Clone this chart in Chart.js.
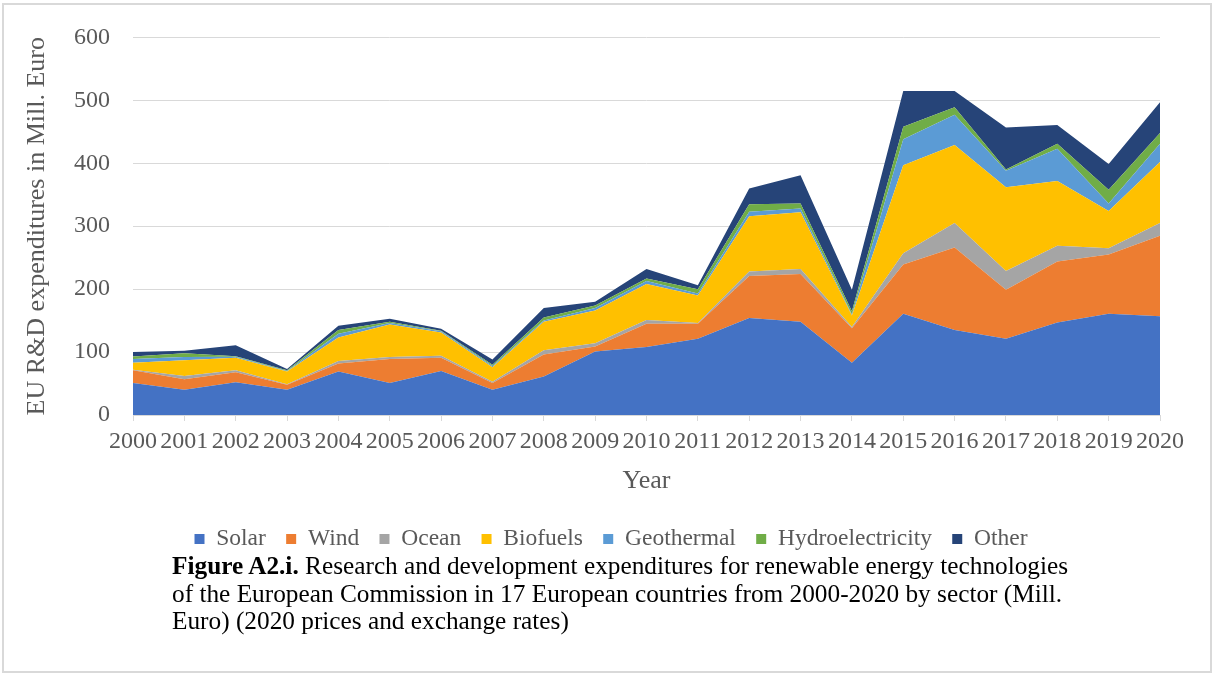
<!DOCTYPE html>
<html>
<head>
<meta charset="utf-8">
<title>EU R&amp;D expenditures for renewable energy technologies</title>
<script src="https://cdn.jsdelivr.net/npm/chart.js@4/dist/chart.umd.min.js"></script>
<style>
  html, body { margin: 0; padding: 0; background: #ffffff; }
  body { width: 1212px; height: 673px; position: relative; overflow: hidden; font-family: "Liberation Serif", "Times New Roman", serif; }
  #frame { position: absolute; left: 2px; top: 3px; width: 1210px; height: 670px; box-sizing: border-box; border: 2px solid #d9d9d9; }
  #chart { position: absolute; left: 0; top: 0; }
  #caption { position: absolute; left: 172px; top: 552px; font-size: 25.3px; line-height: 27.5px; color: #000; white-space: nowrap; }
</style>
</head>
<body>
<div id="frame"></div>
<canvas id="chart" width="1212" height="562"></canvas>
<div id="caption"><b>Figure A2.i.</b> Research and development expenditures for renewable energy technologies<br>of the European Commission in 17 European countries from 2000-2020 by sector (Mill.<br>Euro) (2020 prices and exchange rates)</div>
<script>
// Years on the category axis
const years = ['2000','2001','2002','2003','2004','2005','2006','2007','2008','2009','2010',
               '2011','2012','2013','2014','2015','2016','2017','2018','2019','2020'];

// Expenditures per sector, Mill. Euro
const solar      = [51, 40, 52, 40, 69, 51, 70, 40, 61, 101, 108, 121, 154, 148, 83, 161, 135, 121, 147, 161, 157];
const wind       = [20, 17, 16,  8, 13, 38, 21, 11, 35,   8,  37,  24,  67,  76, 55,  78, 131,  78,  97,  94, 128];
const ocean      = [ 1,  5,  3,  1,  4,  3,  3,  2,  7,   5,   6,   1,   7,   8,  2,  18,  39,  30,  25,  10,  20];
const biofuels   = [11, 25, 20, 20, 37, 52, 37, 23, 45,  52,  57,  44,  88,  90, 18, 140, 124, 133, 103,  59,  97];
const geothermal = [ 6,  5, 1.5, 1,  6,  2,  2,  2,  2,   4,   5,   3,   7,   6,  2,  41,  48,  26,  51,  12,  29];
const hydro      = [ 4,  6,  1,  1,  6,  2,  1,  2,  5,   4,   4,   7,  12,   8,  5,  20,  12,   2,   8,  22,  17];
const other      = [ 7,  4, 17.5, 2, 7,  5,  3,  8, 15,   6,  15,   6,  25,  45, 34,  57,  26,  67,  30,  41,  49];

// Value axis ticks
const yTicks = [0, 100, 200, 300, 400, 500, 600];

const sectorNames  = ['Solar', 'Wind', 'Ocean', 'Biofuels', 'Geothermal', 'Hydroelectricity', 'Other'];
const sectorValues = [solar, wind, ocean, biofuels, geothermal, hydro, other];
const sectorColors = ['#4472C4', '#ED7D31', '#A5A5A5', '#FFC000', '#5B9BD5', '#70AD47', '#264478'];

const textGrey = '#595959';
const gridGrey = '#d9d9d9';
const serif = '"Liberation Serif", "Times New Roman", serif';

Chart.defaults.font.family = serif;

const datasets = sectorNames.map((name, i) => ({
  label: name,
  data: sectorValues[i],
  backgroundColor: sectorColors[i],
  borderColor: 'rgba(0,0,0,0)',
  borderWidth: 0,
  pointRadius: 0,
  pointHoverRadius: 0,
  tension: 0,
  fill: i === 0 ? 'origin' : '-1'
}));

new Chart(document.getElementById('chart'), {
  type: 'line',
  data: { labels: years, datasets },
  options: {
    responsive: false,
    animation: false,
    devicePixelRatio: 1,
    layout: { padding: { top: 36, right: 0, bottom: 1.25, left: 10 } },
    plugins: {
      legend: {
        position: 'bottom',
        labels: {
          boxWidth: 10,
          boxHeight: 10,
          padding: 20.3,
          color: textGrey,
          font: { size: 23.5, family: serif }
        }
      },
      tooltip: { enabled: false }
    },
    scales: {
      x: {
        type: 'category',
        offset: false,
        grid: { drawOnChartArea: false, drawTicks: true, tickLength: 6, color: gridGrey },
        border: { display: true, color: gridGrey, width: 1 },
        ticks: {
          autoSkip: false, maxRotation: 0, minRotation: 0, padding: 6,
          color: textGrey, font: { size: 24, family: serif }
        },
        title: {
          display: true, text: 'Year', color: textGrey,
          font: { size: 26, family: serif }, padding: { top: 0, bottom: 10.35 }
        },
        afterFit: (scale) => { scale.height = 91.95; scale.paddingRight = 52; }
      },
      y: {
        stacked: true,
        min: 0,
        max: 600,
        afterBuildTicks: (scale) => { scale.ticks = yTicks.map(v => ({ value: v })); },
        grid: { color: gridGrey, lineWidth: 1, drawTicks: false },
        border: { display: false },
        ticks: { padding: 23, color: textGrey, font: { size: 24, family: serif } },
        title: {
          display: true, text: 'EU R&D expenditures in Mill. Euro', color: textGrey,
          font: { size: 26, family: serif }, padding: { top: 11.4, bottom: 0 }
        },
        afterFit: (scale) => { scale.width = 123; }
      }
    }
  }
});
</script>
</body>
</html>
